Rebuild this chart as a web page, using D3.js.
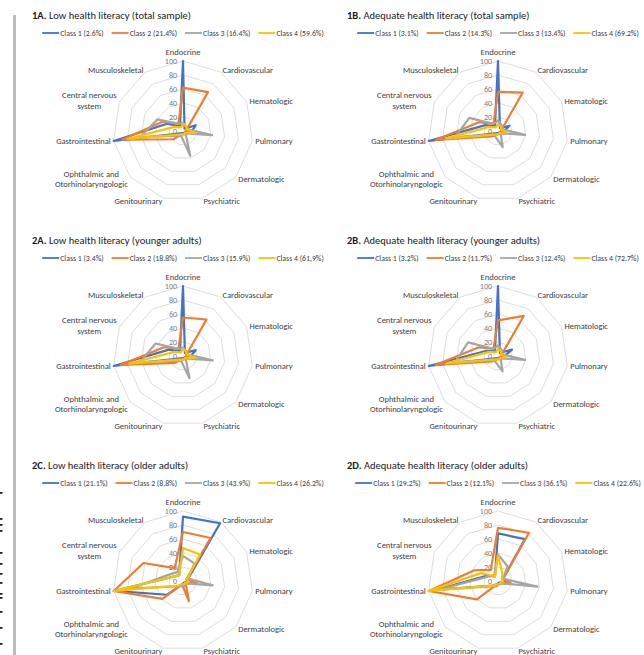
<!DOCTYPE html>
<html>
<head>
<meta charset="utf-8">
<script src="https://cdn.jsdelivr.net/npm/d3@7"></script>
<style>
  html, body { margin: 0; padding: 0; background: #fff; }
  svg { display: block; font-family: Carlito, Lato, "Open Sans", sans-serif; }
  .title { font-size: 10.5px; fill: #1a1a1a; }
  .legend text { font-size: 7.8px; fill: #404040; }
  .axis-label { font-size: 8.5px; fill: #404040; }
  .tick-label { font-size: 8px; fill: #7a7a7a; }
</style>
</head>
<body>
<div id="chart"></div>
<script>
// categories, clockwise from the top
const AXES = ["Endocrine", "Cardiovascular", "Hematologic", "Pulmonary", "Dermatologic",
  "Psychiatric", "Genitourinary", "Ophthalmic and\nOtorhinolaryngologic", "Gastrointestinal",
  "Central nervous\nsystem", "Musculoskeletal"];
const TICKS = [0, 20, 40, 60, 80, 100];
const CLASS_COLORS = ["#4472C4", "#ED7D31", "#A5A5A5", "#FFC000"];

// one set per panel: [prefix, title], legend labels, values per class (order of AXES)
const TITLE_1A = ["1A.", "Low health literacy (total sample)"];
const LEGEND_1A = ["Class 1 (2.6%)", "Class 2 (21.4%)", "Class 3 (16.4%)", "Class 4 (59.6%)"];
const VALUES_1A = [
  [100, 4, 20, 12, 3, 3, 3, 5, 100, 25, 8],
  [62, 66, 6, 4, 3, 5, 5, 18, 88, 32, 12],
  [12, 8, 6, 42, 5, 37, 8, 10, 62, 40, 12],
  [10, 8, 6, 18, 4, 5, 5, 8, 80, 14, 6]
];

const TITLE_1B = ["1B.", "Adequate health literacy (total sample)"];
const LEGEND_1B = ["Class 1 (3.1%)", "Class 2 (14.3%)", "Class 3 (13.4%)", "Class 4 (69.2%)"];
const VALUES_1B = [
  [100, 5, 18, 8, 3, 3, 3, 5, 100, 20, 8],
  [56, 65, 6, 4, 3, 4, 5, 12, 90, 30, 12],
  [15, 10, 6, 39, 5, 24, 10, 8, 62, 45, 12],
  [10, 8, 5, 12, 4, 5, 5, 8, 75, 14, 6]
];

const TITLE_2A = ["2A.", "Low health literacy (younger adults)"];
const LEGEND_2A = ["Class 1 (3.4%)", "Class 2 (18.8%)", "Class 3 (15.9%)", "Class 4 (61,9%)"];
const VALUES_2A = [
  [100, 5, 20, 10, 3, 3, 3, 5, 100, 22, 8],
  [55, 62, 6, 4, 3, 5, 5, 15, 90, 30, 12],
  [12, 8, 6, 43, 5, 33, 8, 10, 62, 43, 12],
  [10, 8, 6, 18, 4, 5, 5, 8, 78, 14, 6]
];

const TITLE_2B = ["2B.", "Adequate health literacy (younger adults)"];
const LEGEND_2B = ["Class 1 (3.2%)", "Class 2 (11.7%)", "Class 3 (12.4%)", "Class 4 (72.7%)"];
const VALUES_2B = [
  [100, 5, 22, 8, 3, 3, 3, 5, 100, 18, 8],
  [51, 68, 6, 4, 3, 4, 5, 12, 90, 30, 12],
  [15, 10, 6, 39, 5, 23, 10, 8, 62, 47, 12],
  [10, 8, 5, 12, 4, 5, 5, 8, 75, 14, 6]
];

const TITLE_2C = ["2C.", "Low health literacy (older adults)"];
const LEGEND_2C = ["Class 1 (21.1%)", "Class 2 (8.8%)", "Class 3 (43.9%)", "Class 4 (26.2%)"];
const VALUES_2C = [
  [92, 98, 8, 5, 3, 3, 5, 30, 100, 15, 10],
  [70, 73, 5, 20, 5, 30, 5, 39, 100, 62, 22],
  [36, 30, 8, 43, 5, 8, 8, 12, 75, 22, 15],
  [47, 45, 6, 8, 4, 5, 5, 10, 100, 15, 10]
];

const TITLE_2D = ["2D.", "Adequate health literacy (older adults)"];
const LEGEND_2D = ["Class 1 (29.2%)", "Class 2 (12.1%)", "Class 3 (36.1%)", "Class 4 (22.6%)"];
const VALUES_2D = [
  [68, 71, 8, 10, 3, 3, 5, 10, 90, 18, 8],
  [76, 82, 8, 18, 5, 5, 5, 40, 100, 37, 19],
  [38, 25, 8, 57, 5, 5, 8, 12, 85, 15, 10],
  [37, 12, 6, 8, 4, 5, 5, 10, 100, 27, 8]
];

const W = 644, H = 655;
const R = 70;                       // radius of the 100 ring
const COLS = [32, 347];             // title x of the two columns
const ROWS = [15, 240, 465];        // title centre y of the three rows

const PANELS = [
  {title: TITLE_1A, legend: LEGEND_1A, values: VALUES_1A, col: 0, row: 0},
  {title: TITLE_1B, legend: LEGEND_1B, values: VALUES_1B, col: 1, row: 0},
  {title: TITLE_2A, legend: LEGEND_2A, values: VALUES_2A, col: 0, row: 1},
  {title: TITLE_2B, legend: LEGEND_2B, values: VALUES_2B, col: 1, row: 1},
  {title: TITLE_2C, legend: LEGEND_2C, values: VALUES_2C, col: 0, row: 2},
  {title: TITLE_2D, legend: LEGEND_2D, values: VALUES_2D, col: 1, row: 2}
];

const svg = d3.select("#chart").append("svg").attr("width", W).attr("height", H);
svg.append("rect").attr("width", W).attr("height", H).attr("fill", "#fff");

// page furniture: grey rule on the left and clipped glyphs from the neighbouring page
svg.append("rect").attr("x", 13).attr("y", 15).attr("width", 3).attr("height", H - 15).attr("fill", "#bdbdbd");
[492, 518, 524, 530, 552, 563, 573, 582, 593, 597, 611, 627, 643].forEach(y =>
  svg.append("rect").attr("x", 0).attr("y", y).attr("width", 2.5).attr("height", 1.8).attr("fill", "#222"));

const rScale = d3.scaleLinear().domain([0, 100]).range([0, R]);
const angle = d3.scaleLinear().domain([0, AXES.length]).range([0, 2 * Math.PI]);

function drawPanel(p){
  const tx = COLS[p.col], ty = ROWS[p.row];
  const cx = tx + 151, cy = ty + 116;
  const g = svg.append("g");

  // title
  const t = g.append("text").attr("class", "title").attr("x", tx).attr("y", ty).attr("dy", "0.35em");
  t.append("tspan").attr("font-weight", "bold").text(p.title[0]);
  t.append("tspan").text(" " + p.title[1]);

  // legend, centred on the plot
  const leg = g.append("g").attr("class", "legend");
  let x = 0;
  p.legend.forEach((lab, i) => {
    const e = leg.append("g").attr("transform", `translate(${x},0)`);
    e.append("line").attr("x1", 0).attr("x2", 17).attr("stroke", CLASS_COLORS[i]).attr("stroke-width", 1.8);
    const tt = e.append("text").attr("x", 18).attr("dy", "0.35em").text(lab);
    x += 18 + tt.node().getComputedTextLength() + 8;
  });
  leg.attr("transform", `translate(${cx - (x - 8) / 2},${ty + 18})`);

  const plot = g.append("g").attr("transform", `translate(${cx},${cy})`);

  // rings
  const ring = d3.lineRadial().angle((d, i) => angle(i)).radius(d => rScale(d)).curve(d3.curveLinearClosed);
  TICKS.slice(1).forEach(v => {
    plot.append("path").attr("d", ring(AXES.map(() => v)))
        .attr("fill", "none").attr("stroke", "#d9d9d9").attr("stroke-width", 0.9);
  });

  // value axis labels
  plot.selectAll(".tick-label").data(TICKS).join("text").attr("class", "tick-label")
      .attr("x", -6).attr("y", d => -rScale(d)).attr("dy", "0.35em").attr("text-anchor", "end").text(d => d);

  // category labels
  AXES.forEach((a, i) => {
    const s = Math.sin(angle(i)), c = Math.cos(angle(i));
    const lx = (R + 3) * s, ly = -(R + 3) * c;
    const lines = a.split("\n");
    const anchor = Math.abs(s) < 0.1 ? "middle" : (s > 0 ? "start" : "end");
    const shift = Math.abs(s) < 0.1 ? -c * 6 : 0;   // top label sits above its point
    const lab = plot.append("text").attr("class", "axis-label").attr("text-anchor", anchor);
    lines.forEach((ln, k) => {
      lab.append("tspan").attr("x", lx).attr("y", ly + shift + (k - (lines.length - 1) / 2) * 10.5)
         .attr("dy", "0.35em").text(ln);
    });
    if (lines.length > 1) {
      // block is right-aligned, lines centred within it
      const w = d3.max(lab.selectAll("tspan").nodes(), n => n.getComputedTextLength());
      lab.attr("text-anchor", "middle").selectAll("tspan").attr("x", lx - (anchor === "end" ? w / 2 : -w / 2));
    }
  });

  // series
  const line = d3.lineRadial().angle((d, i) => angle(i)).radius(d => rScale(d)).curve(d3.curveLinearClosed);
  p.values.forEach((vals, i) => {
    plot.append("path").attr("d", line(vals)).attr("fill", "none")
        .attr("stroke", CLASS_COLORS[i]).attr("stroke-width", 2.2).attr("stroke-linejoin", "round");
  });
}

PANELS.forEach(drawPanel);
</script>
</body>
</html>
